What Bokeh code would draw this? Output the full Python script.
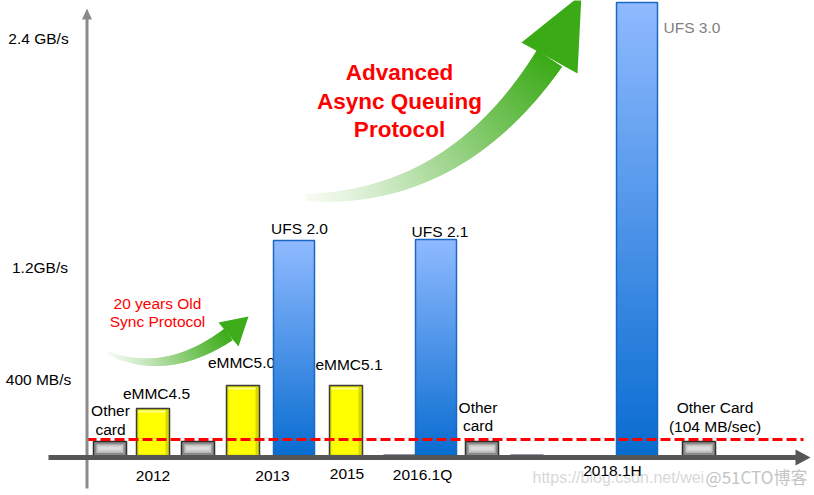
import numpy as np
from bokeh.plotting import figure
from bokeh.models import Range1d
from bokeh.core.properties import value
from bokeh.embed import file_html
from bokeh.resources import INLINE

# ---------------- data (heights in chart units above the time axis) ----------------
tick_labels = ["400 MB/s", "1.2GB/s", "2.4 GB/s"]
tick_levels = [78, 190, 419]
years = ["2012", "2013", "2015", "2016.1Q", "2018.1H"]
emmc_names = ["eMMC4.5", "eMMC5.0", "eMMC5.1"]
emmc_levels = [49, 72, 72]
ufs_names = ["UFS 2.0", "UFS 2.1", "UFS 3.0"]
ufs_levels = [217, 218, 455]
card_levels = [16, 16, 16, 16]
other_card_level = 18          # 104 MB/sec reference line
card_texts = [["Other", "card"], ["Other", "card"], ["Other Card", "(104 MB/sec)"]]
protocol_old = ["20 years Old", "Sync Protocol"]
protocol_new = ["Advanced", "Async Queuing", "Protocol"]

# ---------------- layout ----------------
W, H = 814, 495
BASE = 457
def Y(py):
    return BASE - np.asarray(py, dtype=float)

FONT = "Liberation Sans"
FS = "15.5px"

p = figure(width=W, height=H, x_range=Range1d(0, W), y_range=Range1d(BASE - H, BASE),
           output_backend="svg", toolbar_location=None, min_border=0,
           x_axis_location=None, y_axis_location=None)
p.grid.visible = False
p.outline_line_color = None
p.background_fill_color = "white"
p.border_fill_color = "white"

def mix(c1, c2, t):
    return "#%02x%02x%02x" % tuple(int(round(a + (b - a) * t)) for a, b in zip(c1, c2))

def txt(x, y, s, size=FS, color="black", align="center", style="normal", font=FONT):
    p.text(x=list(x), y=list(y), text=list(s), text_font=value(font),
           text_font_size=size, text_color=color, text_align=align,
           text_baseline="middle", text_font_style=style)

# ---------------- watermark ----------------
txt([532], Y([477]), ["https://blog.csdn.net/wei"], size="16px", color="#d8d8d8", align="left")
txt([756], Y([476]), ["@51CTO博客"], size="17px", color="#c4c4c4", font="Noto Sans CJK SC")

# ---------------- green arrows ----------------
def arrow(P0, P1, P2, w0, w1, head, c_tail, c_head, n=80, ramp=1.2):
    P0, P1, P2 = (np.array(P, float) for P in (P0, P1, P2))
    t = np.linspace(0, 1, n + 1)[:, None]
    pts = (1 - t) ** 2 * P0 + 2 * (1 - t) * t * P1 + t ** 2 * P2
    d = 2 * (1 - t) * (P1 - P0) + 2 * t * (P2 - P1)
    nrm = np.column_stack([-d[:, 1], d[:, 0]]) / np.linalg.norm(d, axis=1)[:, None]
    hw = (w0 + (w1 - w0) * t[:, 0] ** 0.9)[:, None]
    L = pts + nrm * hw
    R = pts - nrm * hw
    xs, ys, cols = [], [], []
    for i in range(n):
        j = min(i + 2, n)
        quad = np.array([L[i], L[j], R[j], R[i]])
        xs.append(list(quad[:, 0]))
        ys.append(list(Y(quad[:, 1])))
        cols.append(mix(c_tail, c_head, ((i + 0.5) / n) ** ramp))
    p.patches(xs=xs, ys=ys, fill_color=cols, line_color=None)
    h = np.array(head, float)
    p.patch(x=list(h[:, 0]), y=list(Y(h[:, 1])), fill_color=mix(c_tail, c_head, 1.0), line_color=None)

arrow((305, 197), (455, 200), (549, 58), 3.5, 15,
      [(521, 42), (581, -6), (577, 73)], (246, 251, 243), (58, 170, 22))
arrow((107, 352), (165, 378), (228, 334), 1.5, 7,
      [(218, 322), (248, 316), (238, 346)], (246, 251, 243), (60, 172, 26))

# ---------------- text annotations ----------------
txt([157, 157], Y([303, 321]), protocol_old, color="#ff0000")
txt([399, 399, 399], Y([72, 101, 129]), protocol_new, size="22.5px", color="#ff0000", style="bold")

# value-axis tick labels, placed at their levels
txt([38, 39.5, 38], tick_levels, tick_labels)

# bar labels (drawn before bars: UFS 2.0 bar hides part of "eMMC5.0")
txt([156, 241, 348.5], Y([393, 362, 364]), emmc_names)
txt([299, 439.5], Y([228, 231]), ufs_names[:2])
txt([663], Y([27]), ufs_names[2:], color="#808080", align="left")
txt([110, 110], Y([410, 429]), card_texts[0])
txt([477.5, 477.5], Y([407, 425]), card_texts[1])
txt([714.5, 714.5], Y([407, 426]), card_texts[2])

# years
txt([152.5, 272, 346.5, 422, 612], Y([475, 475, 473, 474, 470]), years)

# ---------------- bars ----------------
# grey "other card" bars
card_left = np.array([93, 181, 465, 682], float)
card_w = 33
ch = np.array(card_levels, float)
p.quad(left=card_left, right=card_left + card_w, bottom=0, top=ch,
       fill_color="#8c8c8c", line_color="#2e2e2e", line_width=1.5)
p.quad(left=card_left + 3, right=card_left + card_w - 3, bottom=ch * 0.3, top=ch - 3,
       fill_color="#c6c6c6", line_color=None)
p.quad(left=card_left + 5, right=card_left + card_w - 5, bottom=ch * 0.45, top=ch - 5,
       fill_color="#dcdcdc", line_color=None)

# yellow eMMC bars
emmc_left = np.array([136, 226, 329], float)
emmc_w = 33
eh = np.array(emmc_levels, float)
p.quad(left=emmc_left, right=emmc_left + emmc_w, bottom=0, top=eh,
       fill_color="#d8d800", line_color="#3c3c3c", line_width=1.5)
p.quad(left=emmc_left + 2, right=emmc_left + emmc_w - 4, bottom=3, top=eh - 2,
       fill_color="#ffff00", line_color=None)
p.quad(left=emmc_left + 2, right=emmc_left + emmc_w - 4, bottom=eh - 4, top=eh - 2,
       fill_color="#ffff90", line_color=None)

# blue UFS bars with vertical gradient
ufs_left = np.array([273, 415, 616], float)
ufs_w = 41
top_c, bot_c = (143, 186, 255), (8, 108, 208)
n = 60
for lft, h in zip(ufs_left, ufs_levels):
    b = h * np.arange(n) / n
    tp = h * (np.arange(n) + 1) / n + 0.8
    tp[-1] = h
    cols = [mix(bot_c, top_c, (i + 0.5) / n) for i in range(n)]
    p.quad(left=lft, right=lft + ufs_w, bottom=b, top=tp, fill_color=cols, line_color=None)
p.quad(left=ufs_left, right=ufs_left + ufs_w, bottom=0, top=ufs_levels,
       fill_color=None, line_color="#1a68c4", line_width=1.5)

# tiny hidden bars at the baseline
p.segment(x0=[383, 510], y0=[2, 2], x1=[415, 543], y1=[2, 2], line_color="#333355", line_width=2)

# ---------------- reference line ----------------
p.segment(x0=[86], y0=[other_card_level], x1=[803], y1=[other_card_level],
          line_color="#ff0000", line_width=3, line_dash="10 4")

# ---------------- axes ----------------
p.segment(x0=[86.5], y0=Y([488]), x1=[86.5], y1=Y([16]), line_color="#8a8a8a", line_width=3)
p.patch(x=[81.5, 86.5, 91.5], y=list(Y([19, 8, 19])), fill_color="#8a8a8a", line_color=None)
p.segment(x0=[48], y0=[0], x1=[797], y1=[0], line_color="#565656", line_width=5)
p.patch(x=[795, 810, 795], y=list(Y([449, 457, 465])), fill_color="#565656", line_color=None)

open("out.html", "w").write(file_html(p, INLINE))
